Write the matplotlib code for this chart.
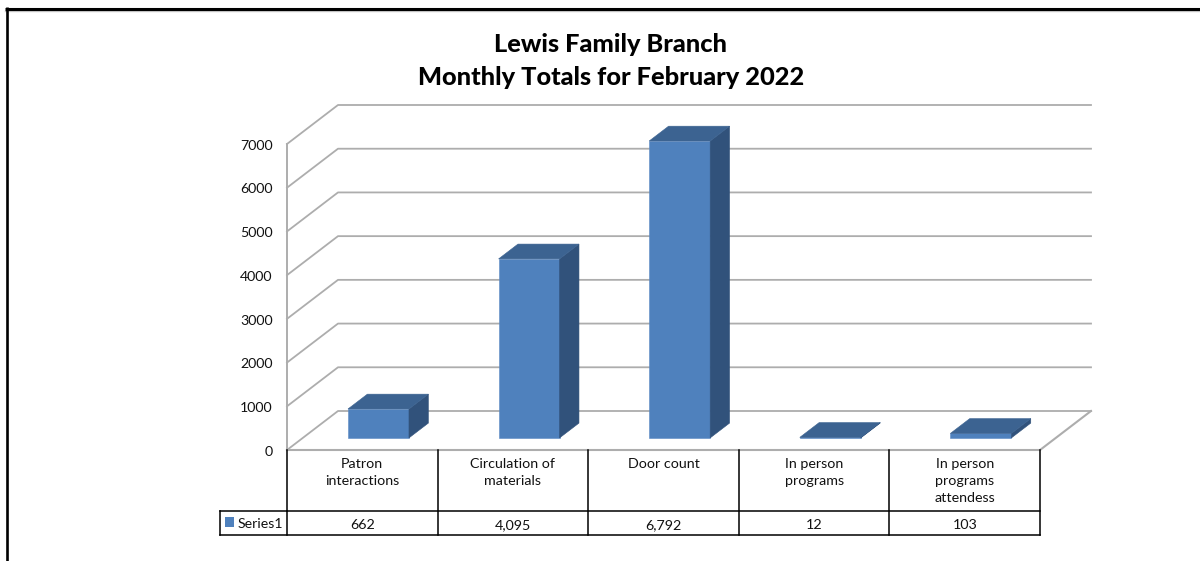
import matplotlib
matplotlib.use('Agg')
import matplotlib.pyplot as plt
from matplotlib.patches import Polygon, Rectangle

plt.rcParams['font.family'] = ['Lato', 'DejaVu Sans']

# chart data
categories = ['Patron\ninteractions', 'Circulation of\nmaterials', 'Door count',
              'In person\nprograms', 'In person\nprograms\nattendess']
values = [662, 4095, 6792, 12, 103]
value_labels = ['662', '4,095', '6,792', '12', '103']
y_ticks = [0, 1000, 2000, 3000, 4000, 5000, 6000, 7000]
series_name = 'Series1'
title = 'Lewis Family Branch\nMonthly Totals for February 2022'

W, H = 1200, 561
fig = plt.figure(figsize=(W / 100, H / 100), dpi=100)

# overlay in pixels, for the slide frame and the title
page = fig.add_axes([0, 0, 1, 1])
page.set_xlim(0, W)
page.set_ylim(H, 0)
page.axis('off')
page.plot([5, W], [11, 11], color='#c8c8c8', lw=1.0)
page.plot([5, W], [8.5, 8.5], color='black', lw=2.2, solid_capstyle='butt')
page.plot([7.2, 7.2], [7, H], color='black', lw=1.9, solid_capstyle='butt')
page.text(611, 61, title, ha='center', va='center', fontsize=18.3, fontweight='black',
          linespacing=1.5, color='black')

# main axes: the front plane of the 3D box
left, right, base, top = 287, 1040, 450, 144
ax = fig.add_axes([left / W, 1 - base / H, (right - left) / W, (base - top) / H])
ax.set_xlim(0, len(categories))
ax.set_ylim(0, 7000)
ax.axis('off')
ax.patch.set_alpha(0)

px_x = (right - left) / len(categories)
px_y = (base - top) / 7000
depth_x = 51 / px_x
depth_y = 39 / px_y


def proj(x, v, z):
    # oblique projection, z is 0 at the front and 1 at the back wall
    return x + z * depth_x, v + z * depth_y


def below(p):
    # pixel row under the axis, as an axis value
    return (base - p) / px_y


grid_c = '#adadad'
for t in y_ticks:
    a = proj(0, t, 0)
    b = proj(0, t, 1)
    c = proj(len(categories), t, 1)
    ax.plot([a[0], b[0], c[0]], [a[1], b[1], c[1]], color=grid_c, lw=1.3, clip_on=False, zorder=1)
    ax.text(-0.095, t - 40, str(t), ha='right', va='center', fontsize=10.2, color='#111111', clip_on=False)
ax.plot([0, 0], [0, 7000], color=grid_c, lw=1.4, clip_on=False, zorder=1)

# floor
floor = [proj(0, 0, 0), proj(5, 0, 0), proj(5, 0, 1)]
ax.plot([p[0] for p in floor], [p[1] for p in floor], color=grid_c, lw=1.5, clip_on=False, zorder=1)

# bars
x0, x1, z0, z1 = 0.3, 0.705, 0.31, 0.69
for i, v in enumerate(values):
    l, r = i + x0, i + x1
    front = [proj(l, 0, z0), proj(r, 0, z0), proj(r, v, z0), proj(l, v, z0)]
    side = [proj(r, 0, z0), proj(r, 0, z1), proj(r, v, z1), proj(r, v, z0)]
    lid = [proj(l, v, z0), proj(r, v, z0), proj(r, v, z1), proj(l, v, z1)]
    ax.add_patch(Polygon(front, closed=True, fc='#4f81bd', ec='#5b8ac4', lw=0.4, zorder=3, clip_on=False))
    ax.add_patch(Polygon(side, closed=True, fc='#31527b', ec='#31527b', lw=0.4, zorder=3, clip_on=False))
    ax.add_patch(Polygon(lid, closed=True, fc='#3c6391', ec='#3c6391', lw=0.4, zorder=3, clip_on=False))

# data table under the chart
row1, row2 = below(511), below(535)
legend_x = -67 / px_x
ax.plot([0, 5], [row1, row1], color='black', lw=1.1, clip_on=False)
ax.plot([legend_x, 5], [row2, row2], color='black', lw=1.1, clip_on=False)
ax.plot([legend_x, 0], [row1, row1], color='black', lw=1.1, clip_on=False)
ax.plot([legend_x, legend_x], [row1, row2], color='black', lw=1.1, clip_on=False)
for i in range(len(categories) + 1):
    ax.plot([i, i], [0, row2], color='black', lw=1.1, clip_on=False)

for i, name in enumerate(categories):
    cx = i + 0.5
    ax.text(cx, below(458), name, ha='center', va='top', fontsize=10.3, linespacing=1.52,
            color='#111111', clip_on=False)
    ax.text(cx, below(525), value_labels[i], ha='center', va='center', fontsize=10.3,
            color='#111111', clip_on=False)

ax.add_patch(Rectangle((legend_x + 5 / px_x, below(527)), 9 / px_x, 10 / px_y, fc='#4f81bd', ec='none', clip_on=False))
ax.text(legend_x + 18 / px_x, below(523.5), series_name, ha='left', va='center', fontsize=10.2,
        color='#111111', clip_on=False)

fig.savefig('out.png', dpi=100, facecolor='white')
